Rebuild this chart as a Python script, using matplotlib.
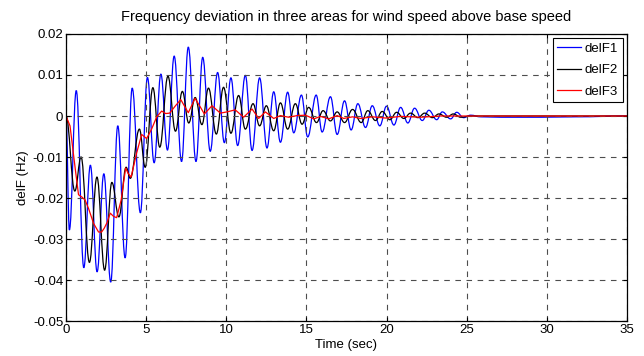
import matplotlib
matplotlib.use("Agg")
import matplotlib.pyplot as plt
from matplotlib.path import Path
from matplotlib.patches import PathPatch
from matplotlib.ticker import FormatStrFormatter

plt.rcParams['font.family'] = ['Liberation Sans', 'DejaVu Sans']

# delF1 (blue) - peaks/troughs
t1 = [0, 0.21, 0.64, 1.11, 1.52, 1.94, 2.36, 2.79, 3.23, 3.69, 4.13, 4.64, 5.08, 5.50,
      5.92, 6.33, 6.75, 7.21, 7.63, 8.11, 8.53, 9.00, 9.46, 9.88, 10.29, 10.71, 11.19,
      11.61, 12.08, 12.54, 12.96, 13.38, 13.83, 14.21, 14.69, 15.08, 15.61, 15.98, 16.50,
      16.92, 17.38, 17.79, 18.21, 18.69, 19.11, 19.58, 20.00, 20.46, 20.88, 21.33, 21.75,
      22.23, 22.64, 23.13, 23.48, 24.00, 24.38, 24.81, 25.25, 25.88, 27.13, 29.63, 31.81, 35.0]
f1 = [0, -0.0278, 0.0062, -0.037, -0.012, -0.038, -0.0141, -0.0405, -0.0024, -0.0346,
      0.0068, -0.0236, 0.0094, -0.0114, 0.0102, -0.0083, 0.0146, -0.0111, 0.0168, -0.0111,
      0.0143, -0.0086, 0.0106, -0.0065, 0.0093, -0.0072, 0.0099, -0.0084, 0.0093, -0.0078,
      0.0059, -0.0064, 0.0058, -0.0041, 0.0051, -0.0051, 0.0051, -0.0039, 0.0047, -0.0045,
      0.0037, -0.0034, 0.003, -0.0028, 0.0025, -0.0024, 0.0024, -0.0022, 0.0021, -0.0017,
      0.0019, -0.0011, 0.0014, -0.0009, 0.001, -0.0007, 0.0009, -0.0004, 0.0002, -0.0002,
      -0.0003, -0.0003, -0.0002, 0.0]

# delF2 (black)
t2 = [0, 0.55, 0.94, 1.46, 1.93, 2.41, 2.86, 3.30, 3.75, 4.01, 4.58, 4.94, 5.42,
      5.85, 6.36, 6.83, 7.26, 7.66, 8.06, 8.48, 8.89, 9.38, 9.83, 10.29, 10.77, 11.19,
      11.67, 12.08, 12.50, 12.96, 13.38, 13.83, 14.31, 14.73, 15.14, 15.63, 16.04, 16.50,
      16.92, 17.38, 17.88, 18.42, 18.83, 19.31, 19.73, 20.21, 20.63, 21.08, 21.50, 21.96,
      22.38, 22.86, 23.27, 23.75, 24.17, 24.63, 25.25, 35.0]
f2 = [0, -0.0183, -0.01, -0.0357, -0.0149, -0.0376, -0.0162, -0.0246, -0.0125,
      -0.0152, -0.0032, -0.0125, 0.0069, -0.0076, 0.0097, -0.0037, 0.006, -0.0017, 0.0045,
      -0.0021, 0.0068, -0.0044, 0.007, -0.0042, 0.005, -0.0032, 0.003, -0.0024, 0.0025,
      -0.0036, 0.0032, -0.0032, 0.003, -0.002, 0.0021, -0.0016, 0.0013, -0.0012, 0.001,
      -0.0016, 0.0016, -0.0016, 0.0013, -0.0011, 0.0011, -0.0009, 0.0009, -0.0006, 0.0007,
      -0.0004, 0.0007, -0.0004, 0.0005, -0.0003, 0.0005, -0.0003, 0.0, 0.0]

# delF3 (red)
t3 = [0, 0.25, 0.58, 0.78, 1.00, 1.19, 1.41, 1.72, 2.03, 2.22, 2.38, 2.56, 2.76, 2.97,
      3.16, 3.44, 3.72, 3.88, 4.06, 4.41, 4.72, 5.03, 5.34, 5.66, 5.97, 6.22, 6.47, 6.83,
      7.16, 7.38, 7.63, 8.05, 8.38, 8.63, 9.11, 9.63, 10.04, 10.56, 11.08, 11.61, 12.02,
      12.44, 12.96, 13.38, 13.89, 14.42, 14.94, 15.46, 15.88, 16.39, 16.92, 17.33, 17.88,
      18.38, 19.13, 19.94, 20.88, 22.13, 23.38, 25.25, 35.0]
f3 = [0, -0.0024, -0.013, -0.0192, -0.0198, -0.0205, -0.0226, -0.0262, -0.0283, -0.0283,
      -0.0274, -0.026, -0.0237, -0.0245, -0.0248, -0.0205, -0.0127, -0.014, -0.0149,
      -0.009, -0.0045, -0.0055, -0.0032, -0.0002, 0.0012, 0.0006, 0.0007, 0.0025, 0.004,
      0.0025, 0.0008, 0.0043, 0.0022, 0.0005, 0.0025, 0.0007, 0.001, 0.0015, -0.0003,
      0.0017, -0.0006, 0.001, -0.0006, 0.0001, -0.0003, 0.0001, 0.0002, -0.0007, -0.0001,
      -0.0007, 0.0001, -0.0006, -0.0002, -0.0006, -0.0002, -0.0005, -0.0001, -0.0003,
      0.0, 0.0, 0.0]


def smooth_path(t, f):
    # bezier through the extrema, flat tangent at each one
    verts = [(t[0], f[0])]
    codes = [Path.MOVETO]
    for i in range(len(t) - 1):
        dx = t[i + 1] - t[i]
        verts += [(t[i] + 0.4 * dx, f[i]), (t[i + 1] - 0.4 * dx, f[i + 1]), (t[i + 1], f[i + 1])]
        codes += [Path.CURVE4] * 3
    return Path(verts, codes)


fig = plt.figure(figsize=(6.44, 3.56), dpi=100)
ax = fig.add_axes([0.1025, 0.0983, 0.871, 0.8062])

ax.add_patch(PathPatch(smooth_path(t1, f1), fill=False, edgecolor='#0000ff', lw=0.9))
ax.add_patch(PathPatch(smooth_path(t2, f2), fill=False, edgecolor='black', lw=0.9))
ax.plot(t3, f3, color='red', lw=0.9, label='delF3')
ax.plot([], [], color='#0000ff', lw=0.9, label='delF1')
ax.plot([], [], color='black', lw=0.9, label='delF2')

ax.set_xlim(0, 35)
ax.set_ylim(-0.05, 0.02)
ax.set_xticks(range(0, 36, 5))
ax.set_yticks([-0.05, -0.04, -0.03, -0.02, -0.01, 0, 0.01, 0.02])
ax.yaxis.set_major_formatter(FormatStrFormatter('%g'))
ax.tick_params(direction='in', top=True, right=True, labelsize=9.5, length=3, pad=2)
ax.grid(True, color='0.3', linestyle=(0, (5, 5)), lw=0.8)
for s in ax.spines.values():
    s.set_linewidth(0.9)

ax.set_title('Frequency deviation in three areas for wind speed above base speed',
             fontsize=10.5, pad=9)
ax.set_xlabel('Time (sec)', fontsize=9.5, labelpad=2)
ax.set_ylabel('delF (Hz)', fontsize=9.5, labelpad=3)

h, l = ax.get_legend_handles_labels()
order = [1, 2, 0]
leg = ax.legend([h[i] for i in order], [l[i] for i in order], loc='upper right',
                fontsize=9.5, fancybox=False, framealpha=1, edgecolor='black',
                handlelength=1.8, borderaxespad=0.3, labelspacing=0.7,
                handletextpad=0.3, borderpad=0.35)
leg.get_frame().set_linewidth(0.8)

fig.savefig('out.png', dpi=100)
